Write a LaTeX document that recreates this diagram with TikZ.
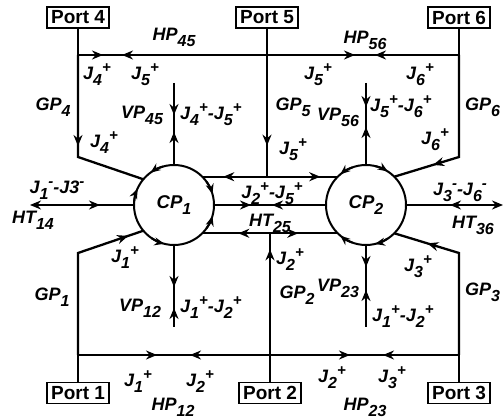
\documentclass[tikz,border=0pt]{standalone}
\usepackage{fontspec}
\setmainfont{Liberation Sans}
\usetikzlibrary{arrows.meta,decorations.markings}

\newcommand{\lsub}[1]{\raisebox{-6pt}{\fontsize{16}{16}\selectfont #1}}
\newcommand{\hsup}[1]{\raisebox{7pt}{\fontsize{15}{15}\selectfont #1}}

\tikzset{
  wire/.style={line width=2.3pt},
  port/.style={draw, line width=1.3pt, minimum width=62pt, minimum height=21pt, inner sep=0pt, font=\fontsize{19}{19}\selectfont\bfseries},
  cp/.style={circle, draw, line width=2pt, minimum size=80pt, inner sep=0pt, outer sep=0pt, font=\fontsize{18.5}{18.5}\selectfont\bfseries\itshape},
  lbl/.style={inner sep=0pt, font=\fontsize{18}{18}\selectfont\bfseries\itshape},
  fa/.style={postaction={decorate, decoration={markings, mark=at position #1 with {\arrow{Stealth[length=11pt,width=9pt]}}}}},
  ra/.style={postaction={decorate, decoration={markings, mark=at position #1 with {\arrowreversed{Stealth[length=11pt,width=9pt]}}}}},
  endtip/.style={-{Stealth[length=11pt,width=9pt]}},
  carr/.style={line width=2pt, -{Stealth[length=10pt,width=8pt]}},
}

\begin{document}
\begin{tikzpicture}[x=1pt,y=1pt]
\useasboundingbox (0,0) rectangle (504,420);
% ports
\node[port] (P4) at (78,402.5) {Port 4};
\node[port] (P5) at (267,402.5) {Port 5};
\node[port] (P6) at (459,402.5) {Port 6};
\node[port] (P1) at (78,27) {Port 1};
\node[port] (P2) at (270,27) {Port 2};
\node[port] (P3) at (459,27) {Port 3};
% circulators
\node[cp] (CP1) at (174,215) {CP\lsub{1}};
\node[cp] (CP2) at (366,215) {CP\lsub{2}};
% junction coordinates
\coordinate (h4) at (78,365);
\coordinate (h5) at (P5.south |- h4);
\coordinate (h6) at (P6.south |- h4);
\coordinate (b4) at (78,263);
\coordinate (b6) at (459,263);
\coordinate (b1) at (78,167);
\coordinate (b3) at (459,167);
\coordinate (h1) at (78,65);
\coordinate (h2) at (P2.north |- h1);
\coordinate (h3) at (459,65);
\coordinate (t5) at (P5.south |- CP1.45);
\coordinate (m2) at (P2.north |- CP1.-45);
\coordinate (v45) at (174,337);
\coordinate (v56) at (366,337);
\coordinate (v12) at (174,93);
\coordinate (v23) at (366,93);
\coordinate (e14) at (30,215);
\coordinate (e36) at (503,215);
% upper wires
\draw[wire] (P4.south) -- (h4);
\draw[wire, fa=91pt] (h4) -- (b4) -- (CP1.140);
\draw[wire, fa=25pt, ra=44pt, fa=277pt, ra=297pt] (h4) -- (h5) -- (h6);
\draw[wire, fa=117pt] (P5.south) -- (t5);
\draw[wire] (P6.south) -- (h6);
\draw[wire, fa=129pt] (h6) -- (b6) -- (CP2.45);
% lower wires
\draw[wire] (P1.north) -- (h1);
\draw[wire, fa=155pt] (h1) -- (b1) -- (CP1.-140);
\draw[wire, fa=132.5pt] (P2.north) -- (m2);
\draw[wire] (P3.north) -- (h3);
\draw[wire, fa=135pt] (h3) -- (b3) -- (CP2.-45);
\draw[wire, fa=79pt, ra=112pt, fa=272pt, ra=305pt] (h1) -- (h2) -- (h3);
% cross lines
\draw[wire, ra=21pt, fa=118pt] (CP1.45) -- (t5) -- (CP2.135);
\draw[wire, fa=37pt, ra=58pt] (CP1.east) -- (CP2.west);
\draw[wire, ra=36pt, fa=96pt] (CP1.-45) -- (m2) -- (CP2.-135);
\draw[wire, endtip, ra=34pt] (CP1.west) -- (e14);
\draw[wire, endtip, ra=44pt] (CP2.east) -- (e36);
% vertical paths
\draw[wire, fa=32pt, ra=49pt] (v45) -- (CP1.north);
\draw[wire, fa=24pt, ra=44pt] (v56) -- (CP2.north);
\draw[wire, fa=42pt, ra=63pt] (CP1.south) -- (v12);
\draw[wire, fa=22pt, ra=45pt] (CP2.south) -- (v23);
% circle arrows
\draw[carr] (CP1.106) arc[start angle=106, end angle=126, radius=40pt];
\draw[carr] (CP1.176) arc[start angle=176, end angle=156, radius=40pt];
\draw[carr] (CP1.36) arc[start angle=36, end angle=16, radius=40pt];
\draw[carr] (CP1.-36) arc[start angle=-36, end angle=-16, radius=40pt];
\draw[carr] (CP1.-124) arc[start angle=-124, end angle=-104, radius=40pt];
\draw[carr] (CP2.110) arc[start angle=110, end angle=130, radius=40pt];
\draw[carr] (CP2.77) arc[start angle=77, end angle=57, radius=40pt];
\draw[carr] (CP2.-110) arc[start angle=-110, end angle=-130, radius=40pt];
\draw[carr] (CP2.-57) arc[start angle=-57, end angle=-77, radius=40pt];
% labels
\node[lbl] (lHP45) at (174,383) {HP\lsub{45}};
\node[lbl] (lJ4a) at (97,345) {J\lsub{4}\hsup{+}};
\node[lbl] (lJ5a) at (145,345) {J\lsub{5}\hsup{+}};
\node[lbl] (lGP4) at (53,313) {GP\lsub{4}};
\node[lbl] (lVP45) at (142,305) {VP\lsub{45}};
\node[lbl,anchor=west] (lJ45) at (180,305) {J\lsub{4}\hsup{+}-J\lsub{5}\hsup{+}};
\node[lbl] (lJ4b) at (104,277) {J\lsub{4}\hsup{+}};
\node[lbl] (lHP56) at (365,380) {HP\lsub{56}};
\node[lbl] (lJ5b) at (318,345) {J\lsub{5}\hsup{+}};
\node[lbl] (lJ6a) at (420,345) {J\lsub{6}\hsup{+}};
\node[lbl] (lGP5) at (293,313) {GP\lsub{5}};
\node[lbl] (lVP56) at (338,303) {VP\lsub{56}};
\node[lbl,anchor=west] (lJ56) at (370,313) {J\lsub{5}\hsup{+}-J\lsub{6}\hsup{+}};
\node[lbl,anchor=west] (lGP6) at (465,313) {GP\lsub{6}};
\node[lbl] (lJ6b) at (435,280) {J\lsub{6}\hsup{+}};
\node[lbl] (lJ5c) at (293,270) {J\lsub{5}\hsup{+}};
\node[lbl] (lJ13) at (57,230) {J\lsub{1}\hsup{-}-J3\hsup{-}};
\node[lbl] (lHT14) at (33,200) {HT\lsub{14}};
\node[lbl] (lJ25) at (272,226) {J\lsub{2}\hsup{+}-J\lsub{5}\hsup{+}};
\node[lbl] (lHT25) at (270,197) {HT\lsub{25}};
\node[lbl] (lJ36) at (460,228) {J\lsub{3}\hsup{-}-J\lsub{6}\hsup{-}};
\node[lbl] (lHT36) at (473,195) {HT\lsub{36}};
\node[lbl] (lJ1a) at (125,162) {J\lsub{1}\hsup{+}};
\node[lbl] (lJ2a) at (290,160) {J\lsub{2}\hsup{+}};
\node[lbl] (lJ3a) at (418,153) {J\lsub{3}\hsup{+}};
\node[lbl] (lGP1) at (52,123) {GP\lsub{1}};
\node[lbl] (lVP12) at (140,112) {VP\lsub{12}};
\node[lbl,anchor=west] (lJ12a) at (180,112) {J\lsub{1}\hsup{+}-J\lsub{2}\hsup{+}};
\node[lbl] (lGP2) at (297,125) {GP\lsub{2}};
\node[lbl] (lVP23) at (338,132) {VP\lsub{23}};
\node[lbl,anchor=west] (lJ12b) at (372,103) {J\lsub{1}\hsup{+}-J\lsub{2}\hsup{+}};
\node[lbl,anchor=west] (lGP3) at (465,128) {GP\lsub{3}};
\node[lbl] (lJ1b) at (138,38) {J\lsub{1}\hsup{+}};
\node[lbl] (lJ2b) at (200,38) {J\lsub{2}\hsup{+}};
\node[lbl] (lHP12) at (173,13) {HP\lsub{12}};
\node[lbl] (lJ2c) at (332,42) {J\lsub{2}\hsup{+}};
\node[lbl] (lJ3b) at (392,42) {J\lsub{3}\hsup{+}};
\node[lbl] (lHP23) at (365,13) {HP\lsub{23}};
\end{tikzpicture}
\end{document}
